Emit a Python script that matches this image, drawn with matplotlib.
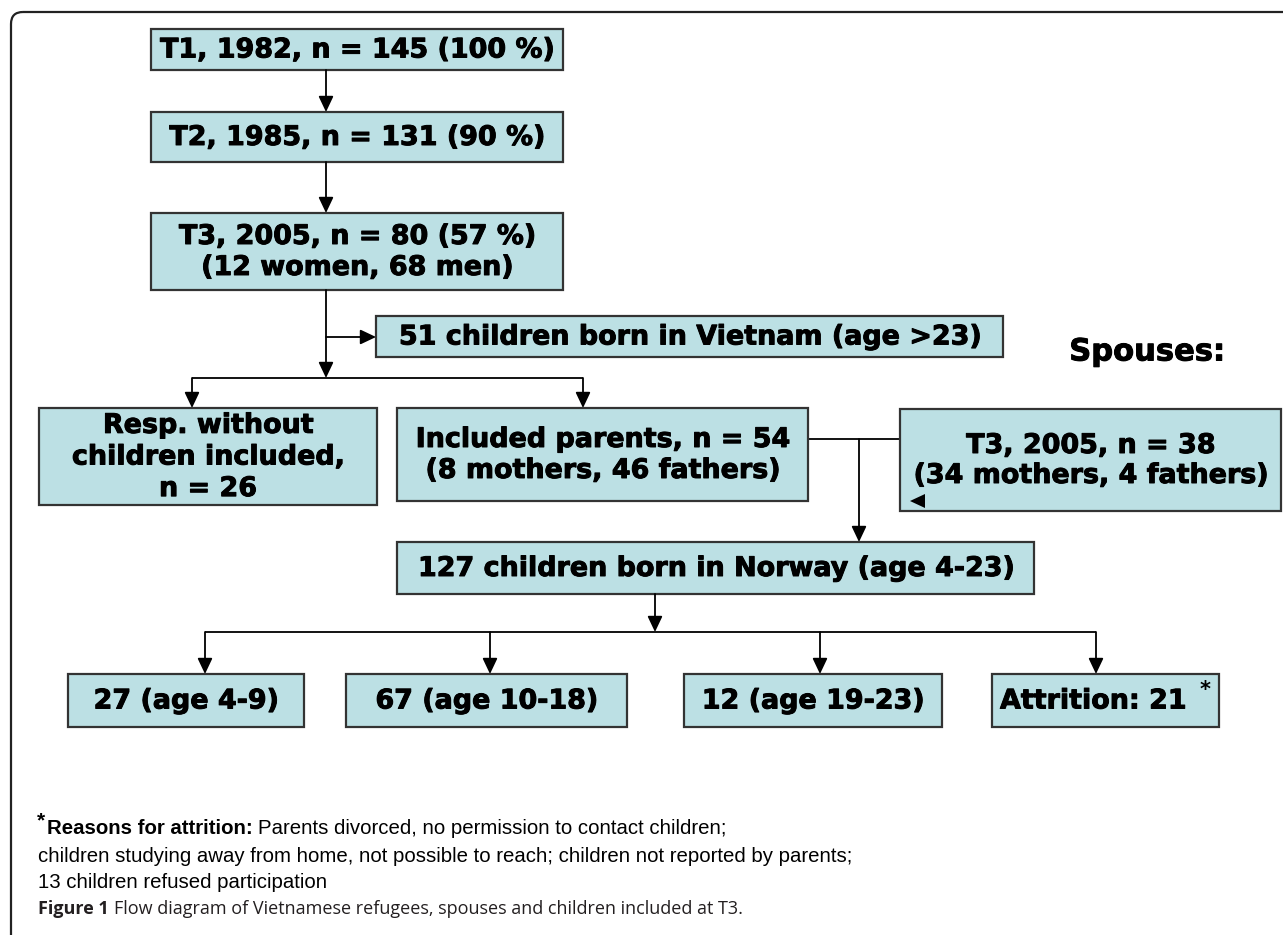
import matplotlib
matplotlib.use("Agg")
import matplotlib.pyplot as plt
import matplotlib.patheffects as pe
from matplotlib.patches import Rectangle, FancyBboxPatch, Polygon

# ---- chart content ----
stage_labels = ["T1, 1982, n = 145 (100 %)",
                "T2, 1985, n = 131 (90 %)",
                "T3, 2005, n = 80 (57 %)\n(12 women, 68 men)"]
vietnam_label = "51 children born in Vietnam (age >23)"
no_child_label = "Resp. without\nchildren included,\nn = 26"
parents_label = "Included parents, n = 54\n(8 mothers, 46 fathers)"
spouses_title = "Spouses:"
spouses_label = "T3, 2005, n = 38\n(34 mothers, 4 fathers)"
norway_label = "127 children born in Norway (age 4-23)"
age_groups = ["27 (age 4-9)", "67 (age 10-18)", "12 (age 19-23)", "Attrition: 21"]
footnote_bold = "Reasons for attrition:"
footnote_lines = ["Parents divorced, no permission to contact children;",
                  "children studying away from home, not possible to reach; children not reported by parents;",
                  "13 children refused participation"]
caption_bold = "Figure 1"
caption_text = "Flow diagram of Vietnamese refugees, spouses and children included at T3."

# ---- layout (pixel coords, y downwards) ----
W, H = 1283, 935
stage_boxes = [(151, 29, 563, 70), (151, 112, 563, 162), (151, 213, 563, 290)]
vietnam_box = (376, 316, 1003, 357)
no_child_box = (39, 408, 377, 505)
parents_box = (397, 408, 808, 501)
spouses_box = (900, 409, 1281, 511)
norway_box = (397, 542, 1034, 594)
age_boxes = [(68, 674, 304, 727), (346, 674, 627, 727), (684, 674, 942, 727), (992, 674, 1219, 727)]
age_arrow_x = [205, 490, 820, 1096]

FILL = "#bce0e4"
EDGE = "#333333"
HEAVY = [pe.withStroke(linewidth=0.7, foreground="black")]
BOXFONT = dict(family="DejaVu Sans", weight="bold", size=19.4, color="black", path_effects=HEAVY)

fig = plt.figure(figsize=(W / 100, H / 100), dpi=100)
ax = fig.add_axes([0, 0, 1, 1])
ax.set_xlim(0, W)
ax.set_ylim(H, 0)
ax.axis("off")

# outer frame with rounded top-left corner
ax.add_patch(FancyBboxPatch((11, 12), W + 50, H + 50, boxstyle="round,pad=0,rounding_size=12",
                            fill=False, ec="#222222", lw=1.6, clip_on=True))


def box(b, label, ha="center", tx=None, ls=1.25):
    x0, y0, x1, y1 = b
    ax.add_patch(Rectangle((x0, y0), x1 - x0, y1 - y0, fc=FILL, ec=EDGE, lw=1.6, zorder=2))
    if tx is None:
        tx = (x0 + x1) / 2
    ax.text(tx, (y0 + y1) / 2 + 1, label, ha=ha, va="center", linespacing=ls, zorder=3, **BOXFONT)


def arrow(x0, y0, x1, y1):
    ax.annotate("", xy=(x1, y1), xytext=(x0, y0),
                arrowprops=dict(arrowstyle="-|>,head_length=0.95,head_width=0.45", mutation_scale=10,
                                color="black", lw=1.3, shrinkA=0, shrinkB=0), zorder=4)


def line(xs, ys):
    ax.plot(xs, ys, color="black", lw=1.3, zorder=1, solid_capstyle="butt")


for b, lab in zip(stage_boxes, stage_labels):
    box(b, lab)
box(vietnam_box, vietnam_label)
box(no_child_box, no_child_label, ls=1.28)
box(parents_box, parents_label)
box(spouses_box, spouses_label, ls=1.2)
box(norway_box, norway_label)
for i, (b, lab) in enumerate(zip(age_boxes, age_groups)):
    if i == 3:
        box(b, lab, ha="left", tx=b[0] + 8)
        ax.text(1205, 690, "*", ha="center", va="center", fontsize=15, fontweight="bold",
                family="DejaVu Sans", zorder=3)
    else:
        box(b, lab)

ax.text(1147, 352, spouses_title, ha="center", va="center",
        family="DejaVu Sans", weight="bold", size=22, color="black", path_effects=HEAVY)

# connectors
arrow(326, 70, 326, 112)
arrow(326, 162, 326, 213)
arrow(326, 290, 326, 378)
arrow(326, 337, 376, 337)
line([192, 583], [378, 378])
arrow(192, 378, 192, 408)
arrow(583, 378, 583, 408)
line([808, 900], [439, 439])
arrow(859, 439, 859, 542)
ax.add_patch(Polygon([[910, 501], [925, 494], [925, 508]], closed=True, fc="black", ec="none", zorder=4))
arrow(655, 594, 655, 632)
line([205, 1096], [632, 632])
for xa in age_arrow_x:
    arrow(xa, 632, xa, 674)

# footnote
renderer = fig.canvas.get_renderer()
inv = ax.transData.inverted()
FN = 14.7
ax.text(37, 821, "*", ha="left", va="center", family="Liberation Sans", weight="bold", size=15)
t = ax.text(47, 829, footnote_bold, ha="left", va="center",
            family="Liberation Sans", weight="bold", size=FN)
xe = inv.transform(t.get_window_extent(renderer).get_points())[1][0]
ax.text(xe + 5, 829, footnote_lines[0], ha="left", va="center", family="Liberation Sans", size=FN)
ax.text(38, 856, footnote_lines[1], ha="left", va="center", family="Liberation Sans", size=FN)
ax.text(38, 883, footnote_lines[2], ha="left", va="center", family="Liberation Sans", size=FN)

# caption
c = ax.text(38, 909, caption_bold, ha="left", va="center", family="Open Sans", weight="bold",
            size=13, color="#231f20")
xe = inv.transform(c.get_window_extent(renderer).get_points())[1][0]
ax.text(xe + 5, 909, caption_text, ha="left", va="center", family="Open Sans", size=13, color="#231f20")

fig.savefig("out.png", dpi=100)
